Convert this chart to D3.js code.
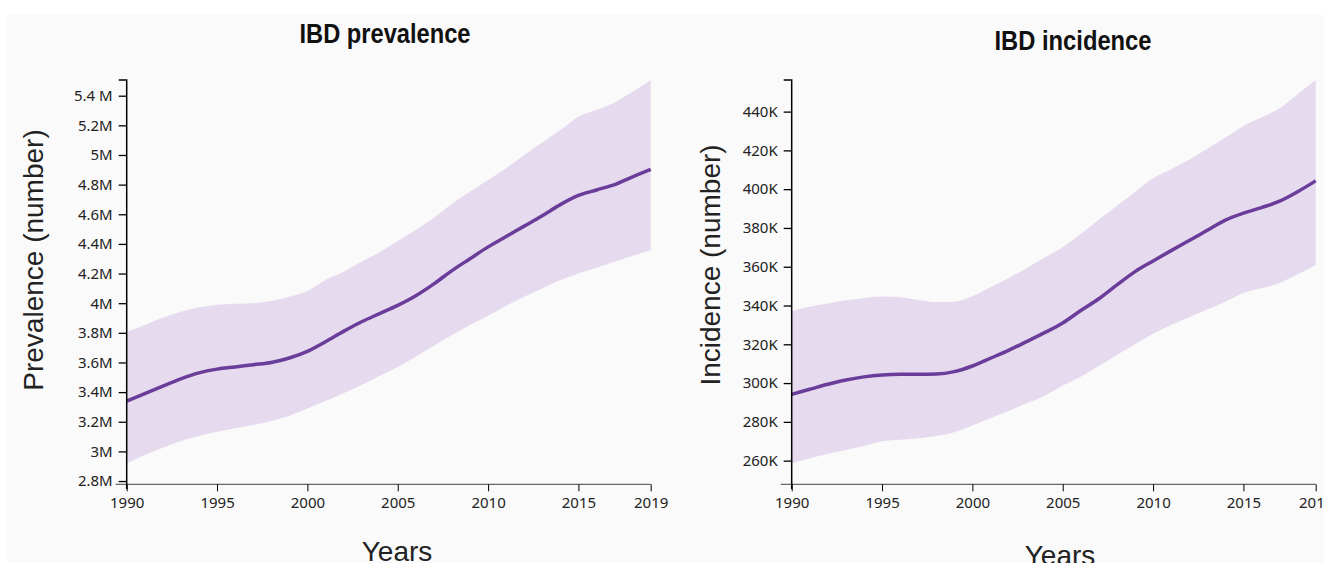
<!DOCTYPE html>
<html>
<head>
<meta charset="utf-8">
<script src="https://cdn.jsdelivr.net/npm/d3@7"></script>
<style>
body { margin: 0; background: #fff; }
.tick text { font-family: "Noto Sans", sans-serif; font-size: 15px; fill: #222; }
.ax-title { font-family: "Liberation Sans", Arial, sans-serif; font-size: 28px; fill: #222; }
.ch-title { font-family: "Liberation Sans Narrow", "Arial Narrow", "Liberation Sans", sans-serif; font-weight: bold; font-size: 28px; fill: #111; }
</style>
</head>
<body>
<script>
var years = [1990,1991,1992,1993,1994,1995,1996,1997,1998,1999,2000,2001,2002,2003,2004,
             2005,2006,2007,2008,2009,2010,2011,2012,2013,2014,2015,2016,2017,2018,2019];

// prevalence, millions
var prevMean  = [3.34,3.39,3.44,3.49,3.53,3.555,3.57,3.585,3.60,3.63,3.675,3.74,3.81,3.875,3.93,
                 3.985,4.05,4.13,4.22,4.30,4.38,4.45,4.52,4.59,4.665,4.727,4.764,4.80,4.853,4.903];
var prevUpper = [3.807,3.853,3.902,3.943,3.972,3.99,3.997,4.0,4.015,4.044,4.082,4.156,4.212,4.28,4.343,
                 4.419,4.494,4.577,4.671,4.752,4.831,4.91,5.0,5.085,5.168,5.258,5.303,5.355,5.427,5.506];
var prevLower = [2.919,2.975,3.025,3.07,3.104,3.133,3.156,3.178,3.205,3.241,3.29,3.34,3.392,3.448,3.51,
                 3.57,3.639,3.713,3.785,3.853,3.915,3.983,4.044,4.10,4.156,4.201,4.239,4.28,4.32,4.359];

// incidence, thousands
var incMean  = [294.2,296.8,299.4,301.6,303.2,304.2,304.6,304.6,304.7,305.9,308.8,312.8,316.9,321.4,326.0,
                331.0,337.4,343.5,350.6,357.5,363.0,368.3,373.5,378.8,384.0,387.6,390.5,393.8,398.7,404.3];
var incUpper = [337.2,339.3,341.0,342.7,343.8,344.6,344.3,342.9,341.8,342.0,344.8,349.4,354.1,359.2,364.7,
                370.1,376.9,384.3,391.5,398.5,405.6,410.3,415.2,420.8,426.6,432.6,437.1,441.7,449.0,456.3];
var incLower = [258.7,261.2,263.5,265.5,267.6,270.0,270.8,271.6,272.7,274.6,278.1,281.9,285.6,289.6,293.5,
                298.7,303.3,308.8,314.5,320.0,325.5,330.0,334.0,337.9,342.0,346.5,348.9,351.6,356.1,360.9];

var xTicks = [1990,1995,2000,2005,2010,2015,2019];
var prevTicks = [2.8,3,3.2,3.4,3.6,3.8,4,4.2,4.4,4.6,4.8,5,5.2,5.4];
var prevTickLabels = ["2.8M","3M","3.2M","3.4M","3.6M","3.8M","4M","4.2M","4.4M","4.6M","4.8M","5M","5.2M","5.4 M"];
var incTicks = [260,280,300,320,340,360,380,400,420,440];
var incTickLabels = ["260K","280K","300K","320K","340K","360K","380K","400K","420K","440K"];

var canvas = d3.select("body").append("svg")
    .attr("width", 1324)
    .attr("height", 563);

canvas.append("rect")
    .attr("x", 7).attr("y", 15)
    .attr("width", 1317).attr("height", 548)
    .attr("fill", "#fafafa");

function drawPanel(p) {
    var x = d3.scaleLinear().domain([1990, 2019]).range([p.left, p.left + 524]);
    var y = d3.scaleLinear().domain(p.domain).range([484.3, 80]);

    var rows = years.map(function(yr, i) {
        return { year: yr, mean: p.mean[i], lo: p.lower[i], hi: p.upper[i] };
    });

    canvas.append("path")
        .datum(rows)
        .attr("fill", "#e6daee")
        .attr("d", d3.area()
            .curve(d3.curveMonotoneX)
            .x(function(d) { return x(d.year); })
            .y0(function(d) { return y(d.lo); })
            .y1(function(d) { return y(d.hi); }));

    canvas.append("path")
        .datum(rows)
        .attr("fill", "none")
        .attr("stroke", "#6a3d9a")
        .attr("stroke-width", 3.5)
        .attr("d", d3.line()
            .curve(d3.curveMonotoneX)
            .x(function(d) { return x(d.year); })
            .y(function(d) { return y(d.mean); }));

    // x axis
    var gx = canvas.append("g")
        .attr("transform", "translate(0,484.3)")
        .call(d3.axisBottom(x).tickValues(xTicks).tickFormat(d3.format("d"))
            .tickSize(7).tickSizeOuter(0).tickPadding(6));
    gx.select(".domain").attr("d", "M" + (p.left - 11) + ",0H" + (p.left + 524)).attr("stroke", "#444");

    // y axis
    var gy = canvas.append("g")
        .attr("transform", "translate(" + p.left + ",0)")
        .call(d3.axisLeft(y).tickValues(p.ticks)
            .tickFormat(function(d, i) { return p.tickLabels[i]; })
            .tickSize(8).tickSizeOuter(0).tickPadding(6));
    gy.select(".domain").attr("d", "M-8,80H0V489").attr("stroke-width", 1.5);
    gy.selectAll(".tick line").attr("stroke-width", 1.3);

    canvas.append("text")
        .attr("class", "ch-title")
        .attr("x", p.titleX).attr("y", p.titleY)
        .attr("text-anchor", "middle")
        .attr("textLength", p.titleW)
        .attr("lengthAdjust", "spacingAndGlyphs")
        .text(p.title);

    canvas.append("text")
        .attr("class", "ax-title")
        .attr("transform", "translate(" + p.ylabX + "," + p.ylabY + ") rotate(-90)")
        .attr("text-anchor", "middle")
        .text(p.ylabel);

    canvas.append("text")
        .attr("class", "ax-title")
        .attr("x", p.xlabX).attr("y", p.xlabY)
        .attr("text-anchor", "middle")
        .text("Years");
}

drawPanel({
    left: 126.7, domain: [2.778, 5.506],
    mean: prevMean, lower: prevLower, upper: prevUpper,
    ticks: prevTicks, tickLabels: prevTickLabels,
    title: "IBD prevalence", titleX: 385, titleY: 43, titleW: 171,
    ylabel: "Prevalence (number)", ylabX: 43, ylabY: 260,
    xlabX: 397, xlabY: 561
});

drawPanel({
    left: 791.7, domain: [247.8, 456.3],
    mean: incMean, lower: incLower, upper: incUpper,
    ticks: incTicks, tickLabels: incTickLabels,
    title: "IBD incidence", titleX: 1073, titleY: 50, titleW: 157,
    ylabel: "Incidence (number)", ylabX: 720, ylabY: 265,
    xlabX: 1060, xlabY: 565
});
</script>
</body>
</html>
